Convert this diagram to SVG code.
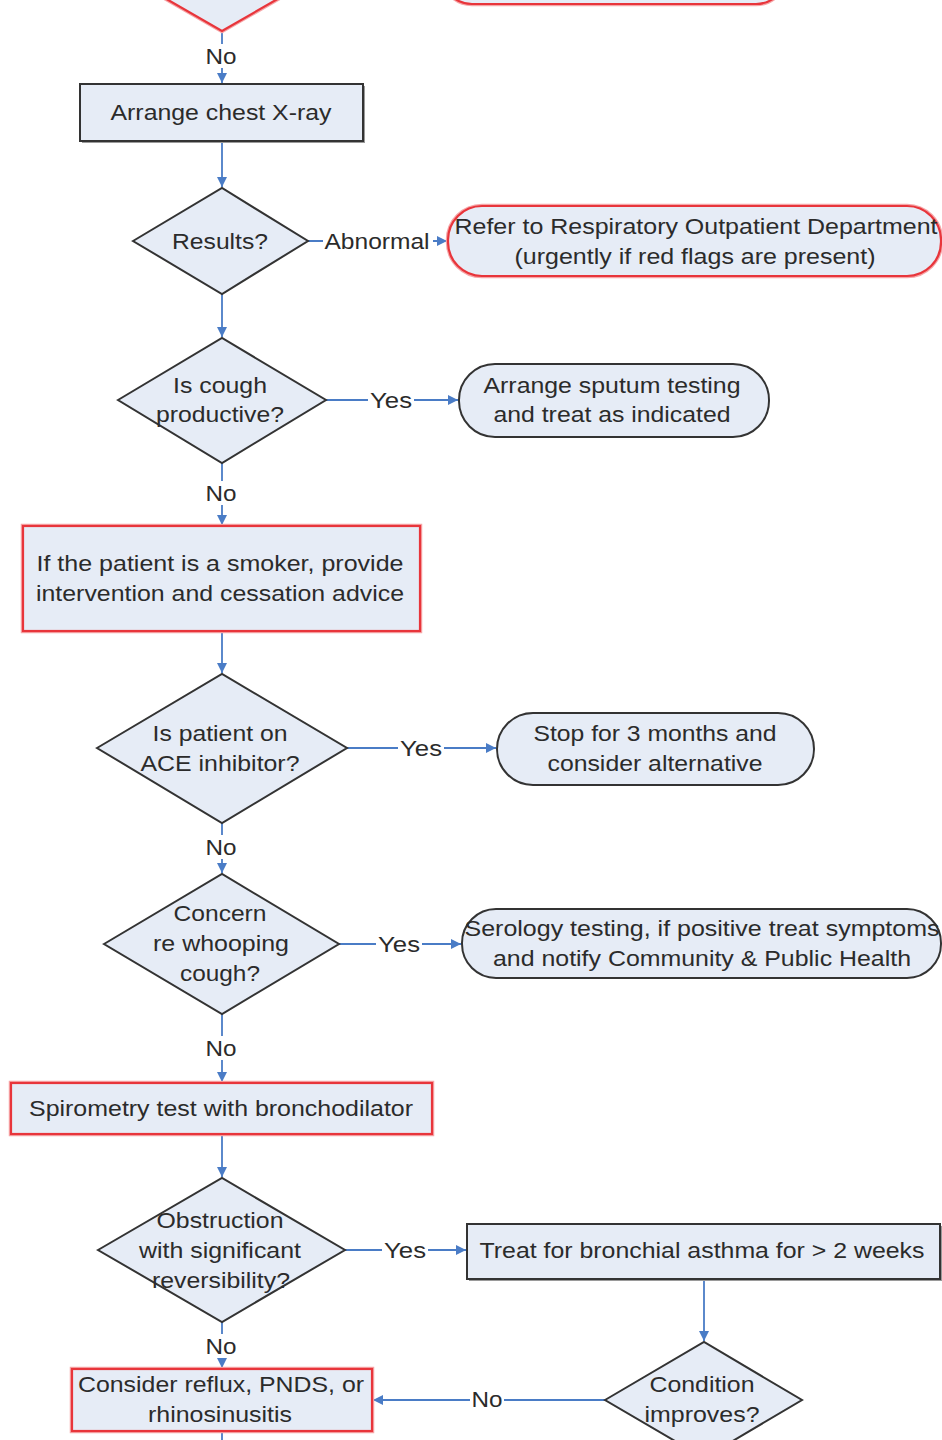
<svg xmlns="http://www.w3.org/2000/svg" width="942" height="1440" viewBox="0 0 942 1440">
  <style>
    .shape { fill: #E6ECF6; }
    .dark { stroke: #333333; stroke-width: 2; }
    .red { stroke: #E8353B; stroke-width: 2.2; }
    .halo { fill: none; stroke: #F6A6A8; stroke-width: 4.5; }
    .shadow { fill: #9A9A9A; }
    .conn { stroke: #4A7CC6; stroke-width: 1.8; fill: none; }
    .lbl-bg { fill: #FFFFFF; }
    text { font-family: "Liberation Sans", Arial, sans-serif; font-size: 22px; fill: #2B2B2B; text-anchor: middle; }
  </style>
  <defs>
    <marker id="arrow" markerWidth="12" markerHeight="12" refX="10" refY="5" orient="auto" markerUnits="userSpaceOnUse">
      <path d="M0,0 L10,5 L0,10 Z" fill="#4A7CC6"/>
    </marker>
  </defs>
  <rect width="942" height="1440" fill="#FFFFFF"/>

  <!-- connectors -->
  <g id="connectors">
    <line class="conn" x1="222" y1="31" x2="222" y2="83" marker-end="url(#arrow)"/>
    <line class="conn" x1="222" y1="141" x2="222" y2="187" marker-end="url(#arrow)"/>
    <line class="conn" x1="308" y1="241" x2="447" y2="241" marker-end="url(#arrow)"/>
    <line class="conn" x1="222" y1="294" x2="222" y2="337" marker-end="url(#arrow)"/>
    <line class="conn" x1="326" y1="400" x2="458" y2="400" marker-end="url(#arrow)"/>
    <line class="conn" x1="222" y1="463" x2="222" y2="525" marker-end="url(#arrow)"/>
    <line class="conn" x1="222" y1="631" x2="222" y2="673" marker-end="url(#arrow)"/>
    <line class="conn" x1="347" y1="748" x2="496" y2="748" marker-end="url(#arrow)"/>
    <line class="conn" x1="222" y1="823" x2="222" y2="873" marker-end="url(#arrow)"/>
    <line class="conn" x1="339" y1="944" x2="461" y2="944" marker-end="url(#arrow)"/>
    <line class="conn" x1="222" y1="1014" x2="222" y2="1082" marker-end="url(#arrow)"/>
    <line class="conn" x1="222" y1="1134" x2="222" y2="1177" marker-end="url(#arrow)"/>
    <line class="conn" x1="345" y1="1250" x2="466" y2="1250" marker-end="url(#arrow)"/>
    <line class="conn" x1="704" y1="1279" x2="704" y2="1341" marker-end="url(#arrow)"/>
    <line class="conn" x1="222" y1="1322" x2="222" y2="1368" marker-end="url(#arrow)"/>
    <line class="conn" x1="605" y1="1400" x2="373" y2="1400" marker-end="url(#arrow)"/>
    <line class="conn" x1="222" y1="1431" x2="222" y2="1440"/>

    <!-- connector labels -->
    <rect class="lbl-bg" x="204" y="44" width="34" height="24"/>
    <text x="221" y="64" textLength="31" lengthAdjust="spacingAndGlyphs">No</text>
    <rect class="lbl-bg" x="323" y="229" width="110" height="24"/>
    <text x="377" y="249" textLength="105" lengthAdjust="spacingAndGlyphs">Abnormal</text>
    <rect class="lbl-bg" x="368" y="388" width="46" height="24"/>
    <text x="391" y="408" textLength="42" lengthAdjust="spacingAndGlyphs">Yes</text>
    <rect class="lbl-bg" x="204" y="481" width="34" height="24"/>
    <text x="221" y="501" textLength="31" lengthAdjust="spacingAndGlyphs">No</text>
    <rect class="lbl-bg" x="398" y="736" width="46" height="24"/>
    <text x="421" y="756" textLength="42" lengthAdjust="spacingAndGlyphs">Yes</text>
    <rect class="lbl-bg" x="204" y="835" width="34" height="24"/>
    <text x="221" y="855" textLength="31" lengthAdjust="spacingAndGlyphs">No</text>
    <rect class="lbl-bg" x="376" y="932" width="46" height="24"/>
    <text x="399" y="952" textLength="42" lengthAdjust="spacingAndGlyphs">Yes</text>
    <rect class="lbl-bg" x="204" y="1036" width="34" height="24"/>
    <text x="221" y="1056" textLength="31" lengthAdjust="spacingAndGlyphs">No</text>
    <rect class="lbl-bg" x="382" y="1238" width="46" height="24"/>
    <text x="405" y="1258" textLength="42" lengthAdjust="spacingAndGlyphs">Yes</text>
    <rect class="lbl-bg" x="204" y="1334" width="34" height="24"/>
    <text x="221" y="1354" textLength="31" lengthAdjust="spacingAndGlyphs">No</text>
    <rect class="lbl-bg" x="470" y="1387" width="34" height="24"/>
    <text x="487" y="1407" textLength="31" lengthAdjust="spacingAndGlyphs">No</text>
  </g>

  <!-- decision partly above the top edge -->
  <g id="node-top-decision">
    <polygon class="halo" points="64,-60 222,-151 380,-60 222,31"/>
    <polygon class="shape red" points="64,-60 222,-151 380,-60 222,31"/>
  </g>

  <!-- terminator partly above the top edge -->
  <g id="node-top-terminator">
    <rect class="halo" x="442" y="-60" width="344" height="64" rx="30"/>
    <rect class="shape red" x="442" y="-60" width="344" height="64" rx="30"/>
  </g>

  <g id="node-xray">
    <rect class="shadow" x="82" y="86" width="283" height="57"/>
    <rect class="shape dark" x="80" y="84" width="283" height="57"/>
    <text x="221" y="120" textLength="221" lengthAdjust="spacingAndGlyphs">Arrange chest X-ray</text>
  </g>

  <g id="node-results">
    <polygon class="shape dark" points="133,241 222,188 308,241 222,294"/>
    <text x="220" y="249" textLength="96" lengthAdjust="spacingAndGlyphs">Results?</text>
  </g>

  <g id="node-refer">
    <rect class="halo" x="448" y="206" width="493" height="70" rx="34"/>
    <rect class="shape red" x="448" y="206" width="493" height="70" rx="34"/>
    <text x="696" y="234" textLength="483" lengthAdjust="spacingAndGlyphs">Refer to Respiratory Outpatient Department</text>
    <text x="695" y="264" textLength="361" lengthAdjust="spacingAndGlyphs">(urgently if red flags are present)</text>
  </g>

  <g id="node-productive">
    <polygon class="shape dark" points="118,400 222,338 326,400 222,463"/>
    <text x="220" y="393" textLength="94" lengthAdjust="spacingAndGlyphs">Is cough</text>
    <text x="220" y="422" textLength="128" lengthAdjust="spacingAndGlyphs">productive?</text>
  </g>

  <g id="node-sputum">
    <rect class="shape dark" x="459" y="364" width="310" height="73" rx="36"/>
    <text x="612" y="393" textLength="257" lengthAdjust="spacingAndGlyphs">Arrange sputum testing</text>
    <text x="612" y="422" textLength="237" lengthAdjust="spacingAndGlyphs">and treat as indicated</text>
  </g>

  <g id="node-smoker">
    <rect class="halo" x="23" y="526" width="397" height="105"/>
    <rect class="shape red" x="23" y="526" width="397" height="105"/>
    <text x="220" y="571" textLength="367" lengthAdjust="spacingAndGlyphs">If the patient is a smoker, provide</text>
    <text x="220" y="601" textLength="368" lengthAdjust="spacingAndGlyphs">intervention and cessation advice</text>
  </g>

  <g id="node-ace">
    <polygon class="shape dark" points="97,748 222,674 347,748 222,823"/>
    <text x="220" y="741" textLength="135" lengthAdjust="spacingAndGlyphs">Is patient on</text>
    <text x="220" y="771" textLength="159" lengthAdjust="spacingAndGlyphs">ACE inhibitor?</text>
  </g>

  <g id="node-stop">
    <rect class="shape dark" x="497" y="713" width="317" height="72" rx="36"/>
    <text x="655" y="741" textLength="243" lengthAdjust="spacingAndGlyphs">Stop for 3 months and</text>
    <text x="655" y="771" textLength="215" lengthAdjust="spacingAndGlyphs">consider alternative</text>
  </g>

  <g id="node-whooping">
    <polygon class="shape dark" points="104,944 222,874 339,944 222,1014"/>
    <text x="220" y="921" textLength="93" lengthAdjust="spacingAndGlyphs">Concern</text>
    <text x="221" y="951" textLength="136" lengthAdjust="spacingAndGlyphs">re whooping</text>
    <text x="220" y="981" textLength="80" lengthAdjust="spacingAndGlyphs">cough?</text>
  </g>

  <g id="node-serology">
    <rect class="shape dark" x="462" y="909" width="479" height="69" rx="34"/>
    <text x="702" y="936" textLength="475" lengthAdjust="spacingAndGlyphs">Serology testing, if positive treat symptoms</text>
    <text x="702" y="966" textLength="418" lengthAdjust="spacingAndGlyphs">and notify Community &amp; Public Health</text>
  </g>

  <g id="node-spirometry">
    <rect class="halo" x="11" y="1083" width="421" height="51"/>
    <rect class="shape red" x="11" y="1083" width="421" height="51"/>
    <text x="221" y="1116" textLength="384" lengthAdjust="spacingAndGlyphs">Spirometry test with bronchodilator</text>
  </g>

  <g id="node-obstruction">
    <polygon class="shape dark" points="98,1250 222,1178 345,1250 222,1322"/>
    <text x="220" y="1228" textLength="127" lengthAdjust="spacingAndGlyphs">Obstruction</text>
    <text x="220" y="1258" textLength="162" lengthAdjust="spacingAndGlyphs">with significant</text>
    <text x="221" y="1288" textLength="138" lengthAdjust="spacingAndGlyphs">reversibility?</text>
  </g>

  <g id="node-asthma">
    <rect class="shadow" x="469" y="1226" width="473" height="55"/>
    <rect class="shape dark" x="467" y="1224" width="473" height="55"/>
    <text x="702" y="1258" textLength="445" lengthAdjust="spacingAndGlyphs">Treat for bronchial asthma for &gt; 2 weeks</text>
  </g>

  <g id="node-reflux">
    <rect class="halo" x="72" y="1369" width="300" height="62"/>
    <rect class="shape red" x="72" y="1369" width="300" height="62"/>
    <text x="221" y="1392" textLength="286" lengthAdjust="spacingAndGlyphs">Consider reflux, PNDS, or</text>
    <text x="220" y="1422" textLength="144" lengthAdjust="spacingAndGlyphs">rhinosinusitis</text>
  </g>

  <g id="node-condition">
    <polygon class="shape dark" points="605,1400 704,1342 802,1400 704,1458"/>
    <text x="702" y="1392" textLength="105" lengthAdjust="spacingAndGlyphs">Condition</text>
    <text x="702" y="1422" textLength="115" lengthAdjust="spacingAndGlyphs">improves?</text>
  </g>
</svg>
